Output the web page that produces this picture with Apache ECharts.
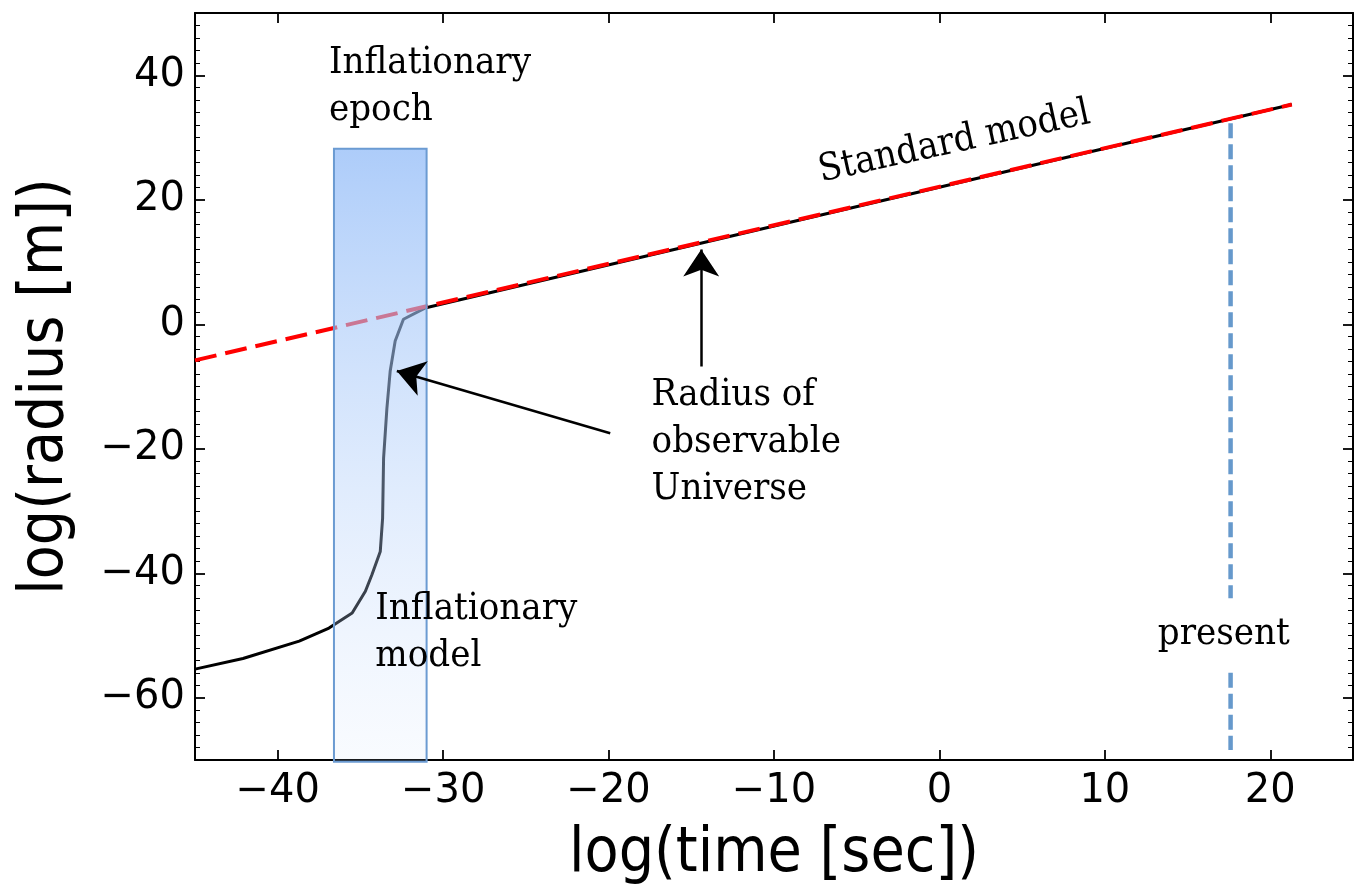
<!DOCTYPE html>
<html>
<head>
<meta charset="utf-8">
<script src="https://cdn.jsdelivr.net/npm/echarts@6/dist/echarts.min.js"></script>
<style>
  html, body { margin: 0; padding: 0; background: #fff; }
  #chart { width: 1358px; height: 886px; }
</style>
</head>
<body>
<div id="chart"></div>
<script>
// black curve: inflationary model, then joins the standard model
var curveX = [-45.0, -42.1, -38.7, -36.9, -35.5, -34.7, -34.3, -33.8, -33.66, -33.6, -33.4, -33.2, -32.9, -32.4, -31.1, 21.3];
var curveY = [-55.4, -53.7, -50.9, -48.8, -46.4, -42.9, -40.2, -36.5, -31.2, -21.5, -13.5, -7.5, -2.7, 0.8, 2.6, 35.3];

// red dashed standard model
var standardX = [-45.0, 21.3];
var standardY = [-5.8, 35.3];

// inflationary epoch box
var epochX = [-36.6, -31.0];
var epochY = [-70.3, 28.2];

// "present" marker (broken around the label)
var presentX = 17.6;
var presentY = [32.3, -44.0, null, -56.0, -68.4];

// arrows (tail -> tip)
var arrowFrom = [[-19.9, -17.5], [-14.4, -6.8]];
var arrowTo = [[-32.8, -7.5], [-14.4, 12.0]];

// text notes
var noteText = ['Inflationary\nepoch', 'Radius of\nobservable\nUniverse', 'Inflationary\nmodel', 'present', 'Standard model'];
var noteX = [-36.9, -17.4, -34.1, 13.2, 0.9];
var noteY = [38.2, -19.0, -49.5, -49.8, 29.2];
var noteRotate = [0, 0, 0, 0, 12.3];

var chart = echarts.init(document.getElementById('chart'));

var sansFont = '"DejaVu Sans Condensed", "DejaVu Sans", sans-serif';
var tickFont = '"DejaVu Sans", sans-serif';
var serifFont = '"DejaVu Serif Condensed", "DejaVu Serif", serif';

function minusFmt(v) {
  return v < 0 ? '\u2212' + Math.abs(v) : String(v);
}

function makeX(pos, labels) {
  return {
    type: 'value', position: pos, min: -45, max: 25, splitNumber: 7,
    axisLine: { show: true, onZero: false, lineStyle: { color: '#000', width: 2 } },
    axisTick: { show: true, inside: true, length: 10, lineStyle: { color: '#000', width: 1.8 } },
    axisLabel: {
      show: labels, showMinLabel: false, showMaxLabel: false, margin: 12,
      color: '#000', fontSize: 40, fontFamily: tickFont, formatter: minusFmt
    },
    splitLine: { show: false },
    name: labels ? 'log(time [sec])' : '',
    nameLocation: 'middle', nameGap: 64,
    nameTextStyle: { color: '#000', fontSize: 62, fontFamily: sansFont }
  };
}

function makeY(pos, labels) {
  return {
    type: 'value', position: pos, min: -70, max: 50, splitNumber: 6,
    axisLine: { show: true, onZero: false, lineStyle: { color: '#000', width: 2 } },
    axisTick: { show: true, inside: true, length: 10, lineStyle: { color: '#000', width: 1.8 } },
    minorTick: { show: true, splitNumber: 10, length: 5, lineStyle: { color: '#000', width: 1 } },
    axisLabel: {
      show: labels, showMinLabel: false, showMaxLabel: false, margin: 10,
      color: '#000', fontSize: 40, fontFamily: tickFont, formatter: minusFmt
    },
    splitLine: { show: false },
    minorSplitLine: { show: false },
    name: labels ? 'log(radius [m])' : '',
    nameLocation: 'middle', nameGap: 118,
    nameTextStyle: { color: '#000', fontSize: 62, fontFamily: sansFont }
  };
}

var curveData = curveX.map(function (x, i) { return [x, curveY[i]]; });
var standardData = standardX.map(function (x, i) { return [x, standardY[i]]; });
var presentData = presentY.map(function (y) { return [presentX, y === null ? '-' : y]; });
var arrowData = arrowFrom.map(function (p, i) { return { coords: [p, arrowTo[i]] }; });
var noteData = noteText.map(function (t, i) {
  var rot = noteRotate[i];
  var lab = rot
    ? { position: 'inside', rotate: rot, align: 'center' }
    : { position: 'right', distance: 0 };
  return { value: [noteX[i], noteY[i]], name: t, label: lab };
});

chart.setOption({
  animation: false,
  backgroundColor: '#fff',
  grid: { left: 195, right: 5, top: 13, bottom: 126, outerBoundsMode: 'none' },
  xAxis: [makeX('bottom', true), makeX('top', false)],
  yAxis: [makeY('left', true), makeY('right', false)],
  series: [
    {
      type: 'line', data: curveData, symbol: 'none', z: 2,
      lineStyle: { color: '#000', width: 3 }
    },
    {
      type: 'line', data: standardData, symbol: 'none', z: 3,
      lineStyle: { color: '#ff0000', width: 4, type: [22, 9] }
    },
    {
      type: 'line', data: presentData, symbol: 'none', z: 3, connectNulls: false,
      lineStyle: { color: '#6699cc', width: 4.5, type: [15, 6] }
    },
    {
      type: 'custom', z: 4, clip: false,
      data: [[epochX[0], epochX[1], epochY[0], epochY[1]]],
      encode: { x: [0, 1], y: [2, 3] },
      renderItem: function (params, api) {
        var a = api.coord([api.value(0), api.value(3)]);
        var b = api.coord([api.value(1), api.value(2)]);
        return {
          type: 'rect',
          shape: { x: a[0], y: a[1], width: b[0] - a[0], height: b[1] - a[1] },
          style: {
            fill: new echarts.graphic.LinearGradient(0, 0, 0, 1, [
              { offset: 0, color: 'rgba(150,190,248,0.78)' },
              { offset: 1, color: 'rgba(205,224,252,0.12)' }
            ]),
            stroke: '#6b9bd2',
            lineWidth: 2
          }
        };
      }
    },
    {
      type: 'lines', coordinateSystem: 'cartesian2d', z: 6,
      data: arrowData,
      symbol: ['none', 'arrow'], symbolSize: [24, 27],
      lineStyle: { color: '#000', width: 2.5, opacity: 1, curveness: 0 }
    },
    {
      type: 'scatter', data: noteData, symbolSize: 0, z: 7, silent: true,
      itemStyle: { opacity: 1, color: '#000' },
      label: {
        show: true, opacity: 1,
        formatter: function (p) { return p.name; },
        color: '#000', fontSize: 38, lineHeight: 47, fontFamily: serifFont,
        textBorderWidth: 0
      }
    }
  ]
});
</script>
</body>
</html>
